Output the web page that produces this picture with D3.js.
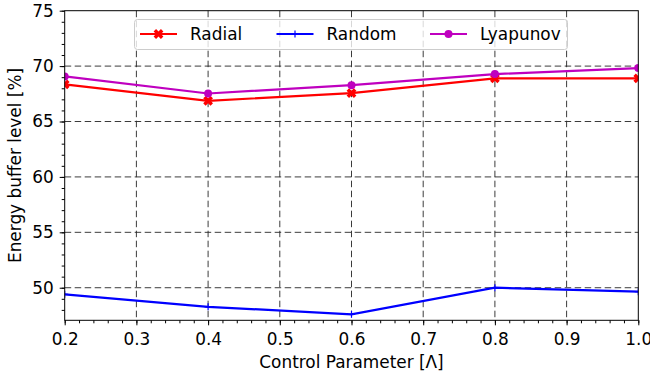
<!DOCTYPE html>
<html>
<head>
<meta charset="UTF-8">
<style>
  body { margin: 0; background: #fff; }
  svg { font-family: "DejaVu Sans", sans-serif; }
</style>
</head>
<body>
<svg id="chart" width="650" height="377"></svg>
<script src="https://d3js.org/d3.v7.min.js"></script>
<script>
// data
const lambdas = [0.2, 0.4, 0.6, 0.8, 1.0];
const radial = [68.35, 66.87, 67.56, 68.89, 68.89];
const random = [49.4, 48.28, 47.6, 50.0, 49.64];
const lyapunov = [69.07, 67.53, 68.28, 69.28, 69.82];
const xTicks = [0.2, 0.3, 0.4, 0.5, 0.6, 0.7, 0.8, 0.9, 1.0];
const yTicks = [50, 55, 60, 65, 70, 75];

const series = [
  { name: "Radial", values: radial, color: "#ff0000", marker: "x" },
  { name: "Random", values: random, color: "#0000ff", marker: "plus" },
  { name: "Lyapunov", values: lyapunov, color: "#bf00bf", marker: "circle" }
];

const svg = d3.select("#chart");
const mLeft = 64.7, mRight = 638.3, mTop = 10.7, mBottom = 320.3;
const fs = "16.9px";

const x = d3.scaleLinear().domain([0.2, 1.0]).range([mLeft, mRight]);
const y = d3.scaleLinear().domain([47.06, 75]).range([mBottom, mTop]);

// grid
const grid = svg.append("g").attr("stroke", "#000").attr("stroke-width", 0.9)
  .attr("stroke-dasharray", "6.5,3.5").attr("opacity", 0.85);
xTicks.slice(1, -1).forEach(t => {
  grid.append("line").attr("x1", x(t)).attr("x2", x(t)).attr("y1", mTop).attr("y2", mBottom);
});
yTicks.slice(0, -1).forEach(t => {
  grid.append("line").attr("x1", mLeft).attr("x2", mRight).attr("y1", y(t)).attr("y2", y(t));
});

// axes
const xAxis = d3.axisBottom(x).tickValues(xTicks).tickFormat(d3.format(".1f")).tickSize(5).tickPadding(8);
const xMinor = d3.axisBottom(x).tickValues(d3.range(0.2, 1.0001, 0.02)).tickFormat("").tickSize(3);
const yAxis = d3.axisLeft(y).tickValues(yTicks).tickSize(5).tickPadding(6);
const yMinor = d3.axisLeft(y).tickValues(d3.range(48, 75.5, 1)).tickFormat("").tickSize(3);

function styleAxis(g) {
  g.select(".domain").remove();
  g.selectAll("line").attr("stroke", "#000").attr("stroke-width", 1);
  g.selectAll("text").attr("fill", "#000").style("font-size", fs)
    .style("font-family", "DejaVu Sans, sans-serif");
}
svg.append("g").attr("transform", `translate(0,${mBottom})`).call(xMinor).call(styleAxis);
svg.append("g").attr("transform", `translate(0,${mBottom})`).call(xAxis).call(styleAxis);
svg.append("g").attr("transform", `translate(${mLeft},0)`).call(yMinor).call(styleAxis);
svg.append("g").attr("transform", `translate(${mLeft},0)`).call(yAxis).call(styleAxis);

// clip for lines
svg.append("clipPath").attr("id", "clip").append("rect")
  .attr("x", mLeft).attr("y", mTop).attr("width", mRight - mLeft).attr("height", mBottom - mTop);

const line = d3.line().x((d, i) => x(lambdas[i])).y(d => y(d));

function drawMarker(g, type, color, cx, cy) {
  if (type === "circle") {
    g.append("circle").attr("cx", cx).attr("cy", cy).attr("r", 4).attr("fill", color);
  } else if (type === "x") {
    g.append("path").attr("d", d3.symbol().type(d3.symbolCross).size(60)())
      .attr("transform", `translate(${cx},${cy}) rotate(45)`).attr("fill", color);
  } else {
    g.append("path").attr("d", `M${cx - 3.5},${cy}H${cx + 3.5}M${cx},${cy - 3.5}V${cy + 3.5}`)
      .attr("stroke", color).attr("stroke-width", 1.2);
  }
}

const plot = svg.append("g").attr("clip-path", "url(#clip)");
series.forEach(s => {
  plot.append("path").datum(s.values).attr("d", line).attr("fill", "none")
    .attr("stroke", s.color).attr("stroke-width", 2.2);
  s.values.forEach((v, i) => drawMarker(plot, s.marker, s.color, x(lambdas[i]), y(v)));
});

// frame
svg.append("rect").attr("x", mLeft).attr("y", mTop).attr("width", mRight - mLeft).attr("height", mBottom - mTop)
  .attr("fill", "none").attr("stroke", "#000").attr("stroke-width", 1);

// legend
const leg = svg.append("g");
leg.append("rect").attr("x", 134.5).attr("y", 19.5).attr("width", 433).attr("height", 30)
  .attr("rx", 3).attr("fill", "#fff").attr("fill-opacity", 0.8).attr("stroke", "#ccc").attr("stroke-width", 1);
const legX = [140, 276.5, 430];
series.forEach((s, i) => {
  const lx = legX[i];
  leg.append("line").attr("x1", lx).attr("x2", lx + 37).attr("y1", 34).attr("y2", 34)
    .attr("stroke", s.color).attr("stroke-width", 2.2);
  drawMarker(leg, s.marker, s.color, lx + 18.5, 34);
  leg.append("text").attr("x", lx + 50).attr("y", 40).text(s.name)
    .style("font-size", fs).attr("fill", "#000");
});

// axis labels
svg.append("text").attr("x", (mLeft + mRight) / 2).attr("y", 368).attr("text-anchor", "middle")
  .style("font-size", fs).text("Control Parameter [Λ]");
svg.append("text").attr("transform", `translate(21,${(mTop + mBottom) / 2}) rotate(-90)`)
  .attr("text-anchor", "middle").style("font-size", fs).text("Energy buffer level [%]");
</script>
</body>
</html>
